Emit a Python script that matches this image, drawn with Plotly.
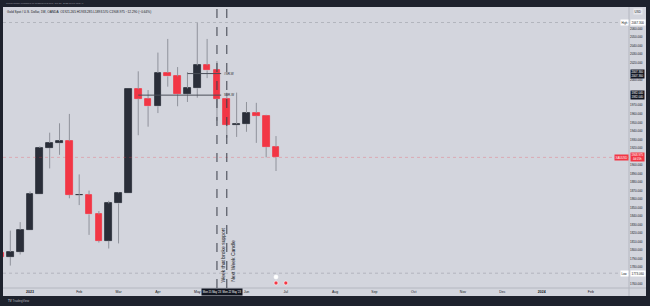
import plotly.graph_objects as go
import pandas as pd

# ---------------- data ----------------
week_start = "2022-12-12"
n_weeks = 29
opens  = [1797, 1792, 1798, 1824, 1866, 1920, 1926, 1928, 1865, 1865, 1842, 1811, 1855, 1867, 1989,
          1978, 1969, 2008, 2004, 1983, 1990, 2017, 2011, 1978, 1947, 1948, 1961, 1958, 1921]
highs  = [1824, 1823, 1833, 1869, 1922, 1938, 1949, 1960, 1889, 1870, 1846, 1858, 1868, 1989, 2010,
          1988, 2032, 2048, 2015, 2009, 2067, 2048, 2022, 1985, 1985, 1974, 1973, 1959, 1934]
lows   = [1773, 1782, 1795, 1824, 1866, 1896, 1912, 1861, 1853, 1818, 1809, 1802, 1808, 1867, 1935,
          1945, 1961, 1992, 1969, 1974, 1979, 2002, 1952, 1932, 1933, 1939, 1926, 1909, 1893]
closes = [1792, 1798, 1824, 1866, 1920, 1926, 1928, 1865, 1865, 1842, 1811, 1855, 1867, 1989, 1978,
          1969, 2008, 2004, 1983, 1990, 2017, 2011, 1978, 1947, 1948, 1961, 1958, 1921, 1909]

month_dates  = ["2023-01-02", "2023-02-06", "2023-03-06", "2023-04-03", "2023-05-01", "2023-06-05",
                "2023-07-03", "2023-08-07", "2023-09-04", "2023-10-02", "2023-11-06", "2023-12-04",
                "2024-01-01", "2024-02-05"]
month_labels = ["<b>2023</b>", "Feb", "Mar", "Apr", "May", "Jun", "Jul", "Aug", "Sep", "Oct", "Nov",
                "Dec", "<b>2024</b>", "Feb"]

price_ticks = [2060, 2050, 2040, 2030, 2020, 2000, 1970, 1960, 1950, 1940, 1930, 1920, 1900, 1890,
               1880, 1870, 1860, 1850, 1840, 1830, 1820, 1810, 1800, 1790, 1780, 1760]

support_levels = [2007.36, 1982.04]
support_starts = ["2023-04-24", "2023-03-20"]
support_end = "2023-05-18"
support_names = ["#SR-W", "SBR-W"]

marked_weeks = ["2023-05-15", "2023-05-22"]
marked_texts = ["Week that broke support", "Next Week Candle"]
marked_dates_text = "Mon 15 May '23 \u00a0Mon 22 May '23"

visible_high = 2067.300
visible_low = 1773.060
last_price = 1908.975

legend_text = ("Gold Spot / U.S. Dollar, 1W, OANDA  O1921.265 H1933.285 L1893.570 "
               "C1908.975 \u221212.290 (\u22120.64%)")
publisher_text = "CoTheTrader published on TradingView.com, Jun 26, 2023 18:17 UTC+0"

# ---------------- style ----------------
DARK = "#1e222d"
LIGHT = "#d3d5dd"
BULL = "#2a2e39"
BEAR = "#f23645"
WICK = "#8f929b"
TXT = "#131722"
W, H = 650, 306

def px(x):
    return x / W

def py(y):
    return 1 - y / H

dates = pd.date_range(week_start, periods=n_weeks, freq="7D")
tops = [max(o, c) for o, c in zip(opens, closes)]
bots = [min(o, c) for o, c in zip(opens, closes)]
colors = [BULL if c >= o else BEAR for o, c in zip(opens, closes)]

# wick segments (upper and lower, so they don't run over bodies)
wx, wy = [], []
for d, h, l, t, b in zip(dates, highs, lows, tops, bots):
    wx += [d, d, None, d, d, None]
    wy += [t, h, None, l, b, None]

fig = go.Figure()
fig.add_trace(go.Scatter(x=wx, y=wy, mode="lines", line=dict(color=WICK, width=1),
                         hoverinfo="skip"))
fig.add_trace(go.Bar(x=dates, y=[t - b for t, b in zip(tops, bots)], base=bots,
                     width=4.8 * 86400000, marker=dict(color=colors, line=dict(color=colors, width=0.8))))

day_per_px = 7 / 9.84
x0 = pd.Timestamp("2023-01-02") - pd.Timedelta(days=27 * day_per_px)
x1 = pd.Timestamp("2023-01-02") + pd.Timedelta(days=599 * day_per_px)
ppd = 0.852
y_top = 1920 + 141 / ppd
y_bot = 1920 - 140 / ppd

shapes = []
# light chart canvas incl. axes
shapes.append(dict(type="rect", xref="paper", yref="paper", x0=px(3), x1=px(646), y0=py(296), y1=py(7),
                   fillcolor=LIGHT, line=dict(width=0), layer="below"))
# separators
shapes.append(dict(type="line", xref="paper", yref="paper", x0=px(629), x1=px(629), y0=py(296), y1=py(7),
                   line=dict(color="#b4b7c0", width=1)))
shapes.append(dict(type="line", xref="paper", yref="paper", x0=px(3), x1=px(646), y0=py(288), y1=py(288),
                   line=dict(color="#b4b7c0", width=1)))
# high / low lines
for v in (visible_high, visible_low):
    shapes.append(dict(type="line", xref="paper", yref="y", x0=px(3), x1=px(629), y0=v, y1=v,
                       line=dict(color="#a9acb5", width=0.8, dash="dot")))
# last price line
shapes.append(dict(type="line", xref="paper", yref="y", x0=px(3), x1=px(629), y0=last_price, y1=last_price,
                   line=dict(color="rgba(242,54,69,0.35)", width=0.8, dash="dot")))
# support levels
for lvl, st in zip(support_levels, support_starts):
    shapes.append(dict(type="line", xref="x", yref="y", x0=st, x1=support_end, y0=lvl, y1=lvl,
                       line=dict(color="#4a4e59", width=1)))
# vertical dashed lines
for d in marked_weeks:
    shapes.append(dict(type="line", xref="x", yref="paper", x0=d, x1=d, y0=py(288), y1=py(7),
                       line=dict(color="#3a3e49", width=1, dash="dash")))
# event icons
for d, yy, fc in [("2023-06-26", 277, "#ffffff"), ("2023-06-26", 283, BEAR), ("2023-07-03", 283, BEAR)]:
    shapes.append(dict(type="circle", xref="x", yref="paper", xsizemode="pixel", ysizemode="pixel",
                       xanchor=d, yanchor=py(yy), x0=-2, x1=2, y0=-2, y1=2,
                       fillcolor=fc, line=dict(color="#ffffff", width=0.6)))

ann = []
ann.append(dict(xref="paper", yref="paper", x=px(4), y=py(3.5), text=publisher_text, showarrow=False,
                xanchor="left", yanchor="middle", font=dict(size=2.4, color="#9598a1")))
ann.append(dict(xref="paper", yref="paper", x=px(5), y=py(12), text=legend_text, showarrow=False,
                xanchor="left", yanchor="middle", font=dict(size=3.2, color=TXT)))
ann.append(dict(xref="paper", yref="paper", x=px(637.5), y=py(12), text="USD", showarrow=False,
                xanchor="center", yanchor="middle", font=dict(size=3, color=TXT),
                bgcolor="#e9eaee", borderpad=0.6))
# high / low labels
for v, name in ((visible_high, "High"), (visible_low, "Low")):
    ann.append(dict(xref="paper", yref="y", x=px(624.5), y=v, text=name, showarrow=False,
                    xanchor="center", yanchor="middle", font=dict(size=2.8, color=TXT),
                    bgcolor="#ffffff", borderpad=0.5))
    ann.append(dict(xref="paper", yref="y", x=px(637.5), y=v, text=f"{v:.3f}", showarrow=False,
                    xanchor="center", yanchor="middle", font=dict(size=3, color=TXT),
                    bgcolor="#ffffff", borderpad=0.5))
# support labels
for lvl, nm in zip(support_levels, support_names):
    ann.append(dict(xref="x", yref="y", x=support_end, y=lvl, text=nm, showarrow=False,
                    xanchor="left", yanchor="middle", xshift=1, font=dict(size=3, color=TXT)))
    ann.append(dict(xref="paper", yref="y", x=px(637.5), y=lvl, text=f"{lvl:.3f}<br>{lvl:.3f}",
                    showarrow=False, xanchor="center", yanchor="middle",
                    font=dict(size=2.8, color="#ffffff"), bgcolor="#131722", borderpad=0.4))
# last price
ann.append(dict(xref="paper", yref="y", x=px(621), y=last_price, text="XAUUSD", showarrow=False,
                xanchor="center", yanchor="middle", font=dict(size=2.8, color="#ffffff"),
                bgcolor=BEAR, borderpad=0.6))
ann.append(dict(xref="paper", yref="y", x=px(637.5), y=last_price, text=f"{last_price:.3f}<br>4d 05h",
                showarrow=False, xanchor="center", yanchor="middle", font=dict(size=2.8, color="#ffffff"),
                bgcolor=BEAR, borderpad=0.4))
# rotated texts next to vertical lines
for d, t in zip(marked_weeks, marked_texts):
    ann.append(dict(xref="x", yref="paper", x=d, y=py(284), text=t, textangle=-90, showarrow=False,
                    xanchor="left", yanchor="bottom", xshift=1, font=dict(size=5, color=TXT)))
# date label on the time axis for the two marked weeks
ann.append(dict(xref="paper", yref="paper", x=px(221.5), y=py(292), text=marked_dates_text, showarrow=False,
                xanchor="center", yanchor="middle", font=dict(size=2.6, color="#ffffff"),
                bgcolor="#131722", borderpad=0.8))
# footer
ann.append(dict(xref="paper", yref="paper", x=px(6), y=py(300.5), text="<b>TV</b> TradingView",
                showarrow=False, xanchor="left", yanchor="middle", font=dict(size=3, color="#b2b5be")))

fig.update_layout(
    width=W, height=H, margin=dict(l=0, r=0, t=0, b=0),
    paper_bgcolor=DARK, plot_bgcolor=LIGHT, showlegend=False, bargap=0,
    font=dict(family="Liberation Sans, Arial, sans-serif"),
    shapes=shapes, annotations=ann,
    xaxis=dict(domain=[px(3), px(629)], range=[x0, x1], type="date", tickmode="array",
               tickvals=month_dates, ticktext=month_labels, showgrid=False, zeroline=False,
               ticks="", showline=False, tickfont=dict(size=3.5, color=TXT), fixedrange=True),
    yaxis=dict(domain=[py(288), py(7)], range=[y_bot, y_top], side="right", tickmode="array",
               tickvals=price_ticks, ticktext=[f"{v:.3f}" for v in price_ticks], showgrid=False,
               zeroline=False, ticks="", showline=False, tickfont=dict(size=3, color=TXT),
               fixedrange=True),
)

fig.write_html("out.html")
